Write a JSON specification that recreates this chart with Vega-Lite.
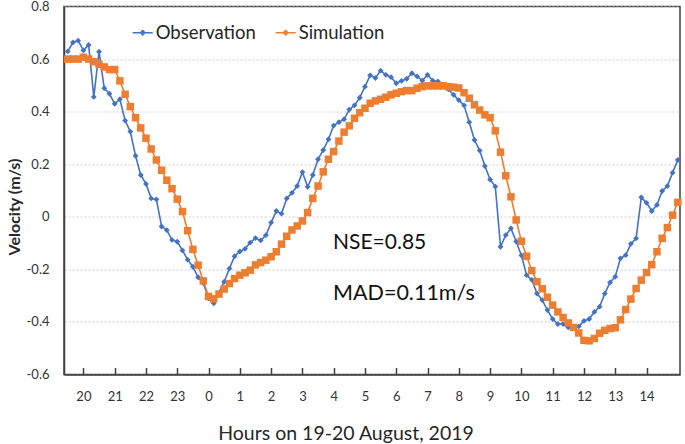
{
  "$schema": "https://vega.github.io/schema/vega-lite/v6.json",
  "width": 616,
  "height": 368,
  "autosize": {"type": "none"},
  "padding": {"left": 64, "top": 6.5, "right": 5, "bottom": 69.5},
  "background": "white",
  "config": {
    "font": "Lato",
    "view": {"stroke": "#404040", "strokeWidth": 1.5},
    "axis": {"labelFont": "Lato", "titleFont": "Lato", "domainColor": "#404040", "domainWidth": 1.5, "labelColor": "#333333", "titleColor": "#262626"}
  },
  "resolve": {"axis": {"x": "independent"}},
  "data": {"values": [
    {"h":19.5,"Observation":0.629,"Simulation":0.6},
    {"h":19.667,"Observation":0.663,"Simulation":0.6},
    {"h":19.833,"Observation":0.67,"Simulation":0.6},
    {"h":20,"Observation":0.633,"Simulation":0.607},
    {"h":20.167,"Observation":0.654,"Simulation":0.6},
    {"h":20.333,"Observation":0.456,"Simulation":0.59},
    {"h":20.5,"Observation":0.628,"Simulation":0.58},
    {"h":20.667,"Observation":0.489,"Simulation":0.57},
    {"h":20.833,"Observation":0.468,"Simulation":0.56},
    {"h":21,"Observation":0.43,"Simulation":0.56},
    {"h":21.167,"Observation":0.447,"Simulation":0.517},
    {"h":21.333,"Observation":0.366,"Simulation":0.466},
    {"h":21.5,"Observation":0.324,"Simulation":0.419},
    {"h":21.667,"Observation":0.232,"Simulation":0.377},
    {"h":21.833,"Observation":0.159,"Simulation":0.338},
    {"h":22,"Observation":0.125,"Simulation":0.299},
    {"h":22.167,"Observation":0.07,"Simulation":0.258},
    {"h":22.333,"Observation":0.066,"Simulation":0.216},
    {"h":22.5,"Observation":-0.037,"Simulation":0.177},
    {"h":22.667,"Observation":-0.051,"Simulation":0.139},
    {"h":22.833,"Observation":-0.088,"Simulation":0.107},
    {"h":23,"Observation":-0.095,"Simulation":0.067},
    {"h":23.167,"Observation":-0.128,"Simulation":0.02},
    {"h":23.333,"Observation":-0.163,"Simulation":-0.053},
    {"h":23.5,"Observation":-0.19,"Simulation":-0.124},
    {"h":23.667,"Observation":-0.23,"Simulation":-0.184},
    {"h":23.833,"Observation":-0.252,"Simulation":-0.244},
    {"h":24,"Observation":-0.31,"Simulation":-0.303},
    {"h":24.167,"Observation":-0.329,"Simulation":-0.312},
    {"h":24.333,"Simulation":-0.294},
    {"h":24.5,"Observation":-0.247,"Simulation":-0.275},
    {"h":24.667,"Observation":-0.197,"Simulation":-0.254},
    {"h":24.833,"Observation":-0.15,"Simulation":-0.235},
    {"h":25,"Observation":-0.132,"Simulation":-0.222},
    {"h":25.167,"Observation":-0.122,"Simulation":-0.213},
    {"h":25.333,"Observation":-0.098,"Simulation":-0.203},
    {"h":25.5,"Observation":-0.081,"Simulation":-0.183},
    {"h":25.667,"Observation":-0.09,"Simulation":-0.174},
    {"h":25.833,"Observation":-0.07,"Simulation":-0.165},
    {"h":26,"Observation":-0.022,"Simulation":-0.152},
    {"h":26.167,"Observation":0.022,"Simulation":-0.133},
    {"h":26.333,"Observation":0.012,"Simulation":-0.104},
    {"h":26.5,"Observation":0.07,"Simulation":-0.074},
    {"h":26.667,"Observation":0.091,"Simulation":-0.05},
    {"h":26.833,"Observation":0.117,"Simulation":-0.035},
    {"h":27,"Observation":0.17,"Simulation":-0.016},
    {"h":27.167,"Observation":0.114,"Simulation":0.016},
    {"h":27.333,"Observation":0.159,"Simulation":0.07},
    {"h":27.5,"Observation":0.219,"Simulation":0.117},
    {"h":27.667,"Observation":0.254,"Simulation":0.171},
    {"h":27.833,"Observation":0.295,"Simulation":0.219},
    {"h":28,"Observation":0.347,"Simulation":0.248},
    {"h":28.167,"Observation":0.36,"Simulation":0.288},
    {"h":28.333,"Observation":0.371,"Simulation":0.322},
    {"h":28.5,"Observation":0.408,"Simulation":0.346},
    {"h":28.667,"Observation":0.424,"Simulation":0.375},
    {"h":28.833,"Observation":0.453,"Simulation":0.396},
    {"h":29,"Observation":0.495,"Simulation":0.413},
    {"h":29.167,"Observation":0.538,"Simulation":0.432},
    {"h":29.333,"Observation":0.528,"Simulation":0.441},
    {"h":29.5,"Observation":0.556,"Simulation":0.447},
    {"h":29.667,"Observation":0.54,"Simulation":0.455},
    {"h":29.833,"Observation":0.531,"Simulation":0.464},
    {"h":30,"Observation":0.508,"Simulation":0.47},
    {"h":30.167,"Observation":0.517,"Simulation":0.476},
    {"h":30.333,"Observation":0.525,"Simulation":0.48},
    {"h":30.5,"Observation":0.546,"Simulation":0.48},
    {"h":30.667,"Observation":0.534,"Simulation":0.489},
    {"h":30.833,"Observation":0.518,"Simulation":0.495},
    {"h":31,"Observation":0.54,"Simulation":0.498},
    {"h":31.167,"Observation":0.518,"Simulation":0.498},
    {"h":31.333,"Observation":0.515,"Simulation":0.498},
    {"h":31.5,"Observation":0.503,"Simulation":0.498},
    {"h":31.667,"Observation":0.485,"Simulation":0.495},
    {"h":31.833,"Observation":0.464,"Simulation":0.493},
    {"h":32,"Observation":0.444,"Simulation":0.49},
    {"h":32.167,"Observation":0.424,"Simulation":0.472},
    {"h":32.333,"Observation":0.36,"Simulation":0.451},
    {"h":32.5,"Observation":0.292,"Simulation":0.426},
    {"h":32.667,"Observation":0.252,"Simulation":0.406},
    {"h":32.833,"Observation":0.193,"Simulation":0.388},
    {"h":33,"Observation":0.142,"Simulation":0.377},
    {"h":33.167,"Observation":0.115,"Simulation":0.327},
    {"h":33.333,"Observation":-0.114,"Simulation":0.246},
    {"h":33.5,"Observation":-0.07,"Simulation":0.156},
    {"h":33.667,"Observation":-0.044,"Simulation":0.076},
    {"h":33.833,"Observation":-0.094,"Simulation":-0.012},
    {"h":34,"Observation":-0.147,"Simulation":-0.093},
    {"h":34.167,"Observation":-0.222,"Simulation":-0.15},
    {"h":34.333,"Observation":-0.24,"Simulation":-0.205},
    {"h":34.5,"Observation":-0.292,"Simulation":-0.247},
    {"h":34.667,"Observation":-0.317,"Simulation":-0.274},
    {"h":34.833,"Observation":-0.355,"Simulation":-0.306},
    {"h":35,"Observation":-0.389,"Simulation":-0.336},
    {"h":35.167,"Observation":-0.408,"Simulation":-0.362},
    {"h":35.333,"Observation":-0.408,"Simulation":-0.383},
    {"h":35.5,"Observation":-0.421,"Simulation":-0.404},
    {"h":35.667,"Observation":-0.421,"Simulation":-0.421},
    {"h":35.833,"Observation":-0.417,"Simulation":-0.442},
    {"h":36,"Observation":-0.396,"Simulation":-0.47},
    {"h":36.167,"Observation":-0.389,"Simulation":-0.472},
    {"h":36.333,"Observation":-0.362,"Simulation":-0.463},
    {"h":36.5,"Observation":-0.342,"Simulation":-0.443},
    {"h":36.667,"Observation":-0.292,"Simulation":-0.432},
    {"h":36.833,"Observation":-0.25,"Simulation":-0.425},
    {"h":37,"Observation":-0.228,"Simulation":-0.422},
    {"h":37.167,"Observation":-0.158,"Simulation":-0.392},
    {"h":37.333,"Observation":-0.146,"Simulation":-0.353},
    {"h":37.5,"Observation":-0.103,"Simulation":-0.313},
    {"h":37.667,"Observation":-0.082,"Simulation":-0.273},
    {"h":37.833,"Observation":0.074,"Simulation":-0.241},
    {"h":38,"Observation":0.053,"Simulation":-0.212},
    {"h":38.167,"Observation":0.022,"Simulation":-0.182},
    {"h":38.333,"Observation":0.045,"Simulation":-0.133},
    {"h":38.5,"Observation":0.098,"Simulation":-0.082},
    {"h":38.667,"Observation":0.117,"Simulation":-0.041},
    {"h":38.833,"Observation":0.168,"Simulation":0.006},
    {"h":39,"Observation":0.216,"Simulation":0.055}
  ]},
  "layer": [
    {
      "transform": [
        {"fold": ["Observation", "Simulation"], "as": ["series", "v"]},
        {"filter": "isValid(datum.v)"}
      ],
      "mark": {"type": "line", "strokeWidth": 1.6},
      "encoding": {
        "x": {
          "field": "h", "type": "quantitative",
          "scale": {"domain": [19.38, 39.07], "nice": false, "zero": false},
          "axis": {
            "orient": "bottom",
            "values": [20,21,22,23,24,25,26,27,28,29,30,31,32,33,34,35,36,37,38],
            "labelExpr": "'' + (datum.value % 24)",
            "labelOverlap": false,
            "grid": false,
            "ticks": false,
            "labelPadding": 16, "labelFontSize": 13, "labelFlush": false,
            "title": "Hours on 19-20 August, 2019",
            "titleFontSize": 19.5, "titleFontWeight": "normal",
            "titleX": 281.5, "titleY": 65, "titleBaseline": "alphabetic", "titleAlign": "center", "titleAnchor": null
          }
        },
        "y": {
          "field": "v", "type": "quantitative",
          "scale": {"domain": [-0.6, 0.8], "nice": false, "zero": false},
          "axis": {
            "values": [-0.6,-0.4,-0.2,0,0.2,0.4,0.6,0.8],
            "labelExpr": "'' + datum.value",
            "ticks": false, "labelPadding": 15, "labelFontSize": 13,
            "grid": true, "gridDash": [2, 2], "gridColor": "#cfcfcf", "gridWidth": 1,
            "title": "Velocity (m/s)", "titleFontSize": 16, "titleFontWeight": "bold",
            "titleAngle": 270, "titleBaseline": "bottom", "titleX": -42, "titleY": 200, "titleAlign": "center", "titleAnchor": null
          }
        },
        "color": {
          "field": "series", "type": "nominal",
          "scale": {"domain": ["Observation", "Simulation"], "range": ["#4472C4", "#ED7D31"]},
          "legend": {
            "orient": "none", "legendX": 67.7, "legendY": 15, "direction": "horizontal",
            "title": null, "labelFont": "Lato", "labelFontSize": 18.5, "labelColor": "#262626",
            "symbolType": "M-1,0L1,0M0,-0.22L0.22,0L0,0.22L-0.22,0Z",
            "symbolSize": 400, "symbolStrokeWidth": 1.6, "symbolOpacity": 1,
            "labelOffset": 2, "columnPadding": 15, "padding": 0
          }
        }
      }
    },
    {
      "transform": [
        {"fold": ["Observation"], "as": ["series", "v"]},
        {"filter": "isValid(datum.v)"}
      ],
      "mark": {"type": "point", "filled": true, "opacity": 1, "strokeWidth": 0, "shape": "diamond", "size": 34, "color": "#4472C4"},
      "encoding": {
        "x": {
          "field": "h", "type": "quantitative",
          "axis": {
            "orient": "bottom",
            "values": [20,21,22,23,24,25,26,27,28,29,30,31,32,33,34,35,36,37,38],
            "labels": false, "domain": false, "grid": false,
            "ticks": true, "tickSize": -7, "tickColor": "#404040", "tickWidth": 1.5,
            "zindex": 1,
            "title": null
          }
        },
        "y": {"field": "v", "type": "quantitative"}
      }
    },
    {
      "transform": [
        {"fold": ["Simulation"], "as": ["series", "v"]},
        {"filter": "isValid(datum.v)"}
      ],
      "mark": {"type": "point", "filled": true, "opacity": 1, "strokeWidth": 0, "shape": "square", "size": 56, "color": "#ED7D31"},
      "encoding": {
        "x": {"field": "h", "type": "quantitative", "axis": {"orient": "bottom", "labels": false, "ticks": false, "domain": false, "grid": false, "title": null}},
        "y": {"field": "v", "type": "quantitative"}
      }
    },
    {
      "data": {"values": [{"label": "NSE=0.85"}]},
      "mark": {"type": "text", "align": "left", "baseline": "alphabetic", "fontSize": 21, "font": "Lato", "color": "#111111"},
      "encoding": {
        "x": {"datum": 27.98, "type": "quantitative", "axis": {"orient": "bottom", "labels": false, "ticks": false, "domain": false, "grid": false, "title": null}},
        "y": {"datum": -0.124, "type": "quantitative"},
        "text": {"field": "label", "type": "nominal"}
      }
    },
    {
      "data": {"values": [{"label": "MAD=0.11m/s"}]},
      "mark": {"type": "text", "align": "left", "baseline": "alphabetic", "fontSize": 21.5, "font": "Lato", "color": "#111111"},
      "encoding": {
        "x": {"datum": 27.98, "type": "quantitative", "axis": {"orient": "bottom", "labels": false, "ticks": false, "domain": false, "grid": false, "title": null}},
        "y": {"datum": -0.315, "type": "quantitative"},
        "text": {"field": "label", "type": "nominal"}
      }
    }
  ]
}
